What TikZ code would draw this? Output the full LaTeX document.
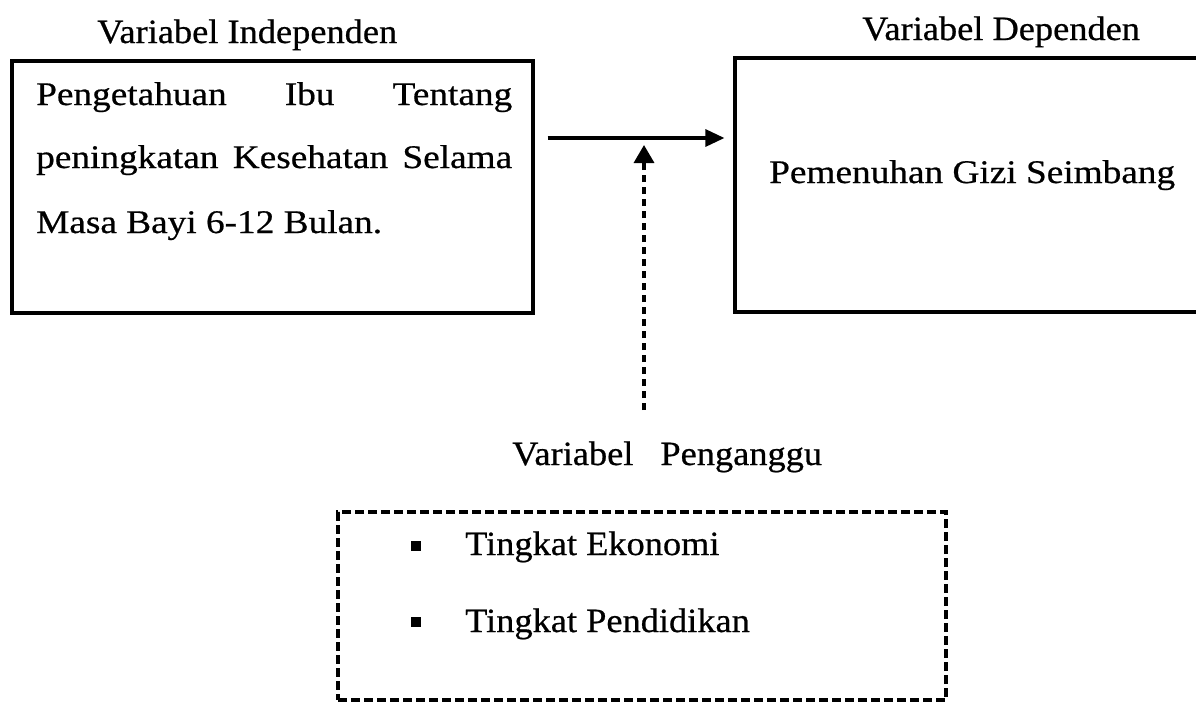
\documentclass[tikz,border=0pt]{standalone}
\usepackage{fontspec}
\setmainfont{Liberation Serif}
\newfontfamily\boxfont{Liberation Serif}[FakeStretch=1.13,FakeBold=0.6]
\newfontfamily\labfont{Liberation Serif}[FakeStretch=1.07,FakeBold=0.6]
\usetikzlibrary{arrows.meta}
\begin{document}
\begin{tikzpicture}[x=1pt,y=-1pt,
  box/.style={draw=black,line width=3.2pt,inner sep=0pt},
  dbox/.style={draw=black,line width=3.2pt,dash pattern=on 9pt off 4pt,inner sep=0pt},
  btxt/.style={inner sep=0pt,anchor=base west,font=\boxfont\fontsize{33}{40}\selectfont},
  ltxt/.style={inner sep=0pt,anchor=base west,font=\labfont\fontsize{34}{40}\selectfont},
  solidarrow/.style={line width=3.2pt,-{Triangle[length=19pt,width=17pt]}},
  dasharrow/.style={line width=3.4pt,dash pattern=on 7pt off 5pt,-{Triangle[length=18pt,width=20pt]}},
  bulletsq/.style={fill=black,inner sep=0pt,minimum size=10pt}]
\useasboundingbox (0,0) rectangle (1196,702);
% boxes
\node[box,minimum width=521pt,minimum height=252pt] (L) at (272.5,187) {};
\node[box,minimum width=465pt,minimum height=254pt] (R) at (967.5,185) {};
\node[dbox,minimum width=608pt,minimum height=188pt] (P) at (642,606) {};
% titles
\node[ltxt] (tL) at (97,43) {Variabel Independen};
\node[ltxt] (tR) at (862,40) {Variabel Dependen};
\node[ltxt] (tP) at (512,465) {Variabel\hskip 27pt Penganggu};
% box texts
\node[btxt] (l1) at (36,105) {\makebox[476pt][s]{Pengetahuan Ibu Tentang}};
\node[btxt] (l2) at (36,168) {\makebox[476pt][s]{peningkatan Kesehatan Selama}};
\node[btxt] (l3) at (36,233) {Masa Bayi 6-12 Bulan.};
\node[btxt] (r1) at (769,183) {Pemenuhan Gizi Seimbang};
% list
\node[bulletsq] (b1) at (416,546) {};
\node[bulletsq] (b2) at (416,622) {};
\node[ltxt] (e1) at (465,555) {Tingkat Ekonomi};
\node[ltxt] (e2) at (465,632) {Tingkat Pendidikan};
% arrows
\coordinate (ay) at (0,138);
\draw[solidarrow] ([xshift=13pt]L.east |- ay) -- ([xshift=-9pt]R.west |- ay);
\coordinate (dstart) at (644,410);
\coordinate (dend) at (644,145);
\draw[dasharrow] (dstart) -- (dend);
\end{tikzpicture}
\end{document}
